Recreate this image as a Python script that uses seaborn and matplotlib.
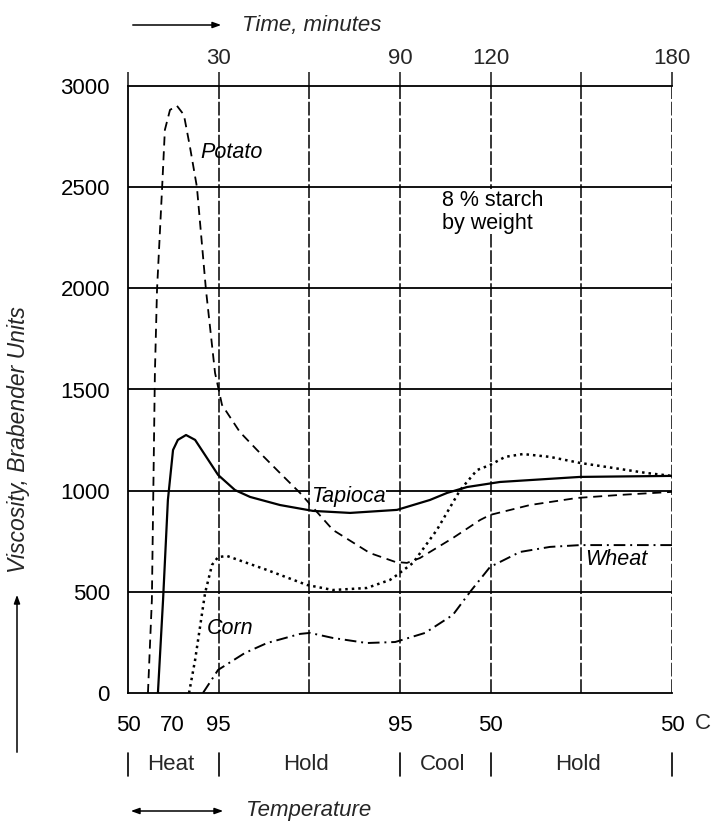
import matplotlib
matplotlib.use("Agg")
import matplotlib.pyplot as plt
import seaborn as sns
import pandas as pd
import numpy as np
from matplotlib.transforms import blended_transform_factory

# ---------------- data ----------------
potato_t = [6.6, 7.9, 8.9, 9.6, 11.3, 12.2, 13.9, 16.2, 18.5, 20.5, 22.8, 25.8, 28.8,
            31.1, 37.0, 42.7, 50.3, 56.9, 67.8, 80.0, 88.4, 92.3, 96.6, 107.5, 116.5,
            119.8, 133.0, 148.6, 162.8, 180.0]
potato_v = [0, 460, 1582, 1992, 2501, 2783, 2882, 2902, 2857, 2699, 2501, 1992, 1582,
            1424, 1290, 1201, 1087, 989, 806, 692, 648, 643, 667, 766, 855,
            880, 929, 964, 979, 994]

tapioca_t = [9.9, 11.6, 13.2, 14.9, 16.5, 19.2, 22.2, 25.5, 29.8, 35.4, 40.4, 50.3,
             61.2, 73.5, 89.0, 99.9, 105.6, 112.2, 123.1, 149.6, 180.0]
tapioca_v = [0, 460, 954, 1201, 1251, 1275, 1251, 1176, 1078, 1003, 969, 929,
             900, 890, 905, 954, 989, 1018, 1043, 1068, 1073]

corn_t = [20.2, 22.2, 25.5, 27.8, 29.8, 32.8, 46.0, 59.2, 67.8, 79.0, 86.7, 89.0,
          94.3, 102.2, 109.9, 115.5, 119.8, 124.8, 130.7, 139.6, 149.6, 171.7, 180.0]
corn_v = [0, 163, 494, 633, 672, 677, 608, 534, 509, 519, 559, 583,
          643, 806, 1003, 1102, 1127, 1167, 1181, 1167, 1137, 1087, 1073]

wheat_t = [24.8, 29.8, 38.7, 46.0, 56.9, 60.2, 67.8, 79.0, 88.4, 98.3, 107.5, 113.2,
           119.8, 129.7, 139.6, 149.6, 180.0]
wheat_v = [0, 114, 198, 247, 292, 297, 272, 247, 252, 297, 386, 500,
           623, 697, 722, 731, 731]

series_names = ["Potato", "Tapioca", "Corn", "Wheat"]

time_ticks = [0, 30, 60, 90, 120, 150, 180]
time_labels = ["", "30", "", "90", "120", "", "180"]
temp_ticks = [0, 14.5, 30, 60, 90, 120, 150, 180]
temp_labels = ["50", "70", "95", "", "95", "50", "", "50"]
y_ticks = [0, 500, 1000, 1500, 2000, 2500, 3000]

phase_names = ["Heat", "Hold", "Cool", "Hold"]
phase_bounds = [0, 30, 90, 120, 180]

# ---------------- build table ----------------
frames = []
for name, t, v in zip(series_names, [potato_t, tapioca_t, corn_t, wheat_t],
                      [potato_v, tapioca_v, corn_v, wheat_v]):
    frames.append(pd.DataFrame({"minutes": t, "viscosity": v, "starch": name}))
df = pd.concat(frames, ignore_index=True)

sns.set_style("white")
plt.rcParams["font.family"] = ["Liberation Sans", "DejaVu Sans"]

W, H = 718, 821
fig = plt.figure(figsize=(W / 100, H / 100), dpi=100)
ax = fig.add_axes([128 / W, 1 - 693 / H, (672 - 128) / W, (693 - 86) / H])

dashes = {"Potato": (5, 3.2), "Tapioca": "", "Corn": (1, 1.6), "Wheat": (6, 2.5, 1, 2.5)}
widths = {"Potato": 1.3, "Tapioca": 1.6, "Corn": 1.8, "Wheat": 1.4}

for name in series_names:
    sub = df[df.starch == name]
    sns.lineplot(data=sub, x="minutes", y="viscosity", ax=ax, color="black",
                 estimator=None, sort=False, legend=False, lw=widths[name],
                 dashes=False, zorder=5)
    line = ax.lines[-1]
    if dashes[name]:
        line.set_dashes(dashes[name])

ax.set_xlim(0, 180)
ax.set_ylim(0, 3000)

# grid
for y in y_ticks[1:-1]:
    ax.axhline(y, color="black", lw=1.3, zorder=2)
for t in time_ticks[1:]:
    ax.axvline(t, color="black", lw=1.1, ls=(0, (9, 1.8)), zorder=2)

for s in ["left", "bottom", "top"]:
    ax.spines[s].set_visible(True)
    ax.spines[s].set_color("black")
    ax.spines[s].set_linewidth(1.3)
ax.spines["right"].set_visible(False)

ax.set_yticks(y_ticks)
ax.set_yticklabels([str(v) for v in y_ticks])
ax.set_xticks(temp_ticks)
ax.set_xticklabels(temp_labels)
ax.tick_params(axis="both", direction="out", length=9, width=1.2, colors="black",
               labelsize=16)
ax.tick_params(axis="x", pad=6.5)
ax.tick_params(axis="y", pad=4)
ax.set_xlabel("")
ax.set_ylabel("")

sec = ax.secondary_xaxis("top")
sec.set_xticks(time_ticks)
sec.set_xticklabels(time_labels)
sec.tick_params(direction="out", length=10, width=1.2, labelsize=16, pad=2)
sec.spines["top"].set_visible(False)

# curve labels
lab_kw = dict(fontsize=15.5, style="italic", color="black", zorder=6)
ax.text(23.8, 2670, "Potato", ha="left", va="center", **lab_kw)
ax.text(60.5, 970, "Tapioca", ha="left", va="center", **lab_kw,
        bbox=dict(fc="white", ec="none", pad=0.5))
ax.text(26.2, 320, "Corn", ha="left", va="center", **lab_kw)
ax.text(151.2, 660, "Wheat", ha="left", va="center", **lab_kw)

ax.text(104, 2378, "8 % starch\nby weight", ha="left", va="center", fontsize=15.5,
        linespacing=1.1, color="black", zorder=6,
        bbox=dict(fc="white", ec="none", pad=0.5))

# "C" after last temperature label
fig.text(703 / W, 1 - 723 / H, "C", fontsize=16, ha="center", va="center")

# phase row
trans = blended_transform_factory(ax.transData, fig.transFigure)
for b in phase_bounds:
    ax.plot([b, b], [1 - 753 / H, 1 - 776 / H], color="black", lw=1.2,
            transform=trans, clip_on=False)
for i, name in enumerate(phase_names):
    mid = (phase_bounds[i] + phase_bounds[i + 1]) / 2 - 1.0
    fig.text(mid, 1 - 764 / H, name, transform=trans, ha="center", va="center",
             fontsize=16)

# top arrow + title
ax.annotate("", xy=(224 / W, 1 - 25 / H), xytext=(130 / W, 1 - 25 / H),
            xycoords="figure fraction",
            arrowprops=dict(arrowstyle="-|>,head_length=0.5,head_width=0.18",
                            color="black", lw=1.1))
fig.text(242 / W, 1 - 25 / H, "Time, minutes", fontsize=16, style="italic",
         ha="left", va="center")

# bottom arrow + temperature
ax.annotate("", xy=(226 / W, 1 - 811 / H), xytext=(128 / W, 1 - 811 / H),
            xycoords="figure fraction",
            arrowprops=dict(arrowstyle="<|-|>,head_length=0.5,head_width=0.18",
                            color="black", lw=1.1))
fig.text(246 / W, 1 - 810 / H, "Temperature", fontsize=16, style="italic",
         ha="left", va="center")

# y label with arrow
fig.text(19 / W, 1 - 440 / H, "Viscosity, Brabender Units", fontsize=16.5,
         style="italic", rotation=90, ha="center", va="center")
ax.annotate("", xy=(17 / W, 1 - 592 / H), xytext=(17 / W, 1 - 755 / H),
            xycoords="figure fraction",
            arrowprops=dict(arrowstyle="-|>,head_length=0.5,head_width=0.18",
                            color="black", lw=1.1))

fig.savefig("out.png", dpi=100, facecolor="white")
